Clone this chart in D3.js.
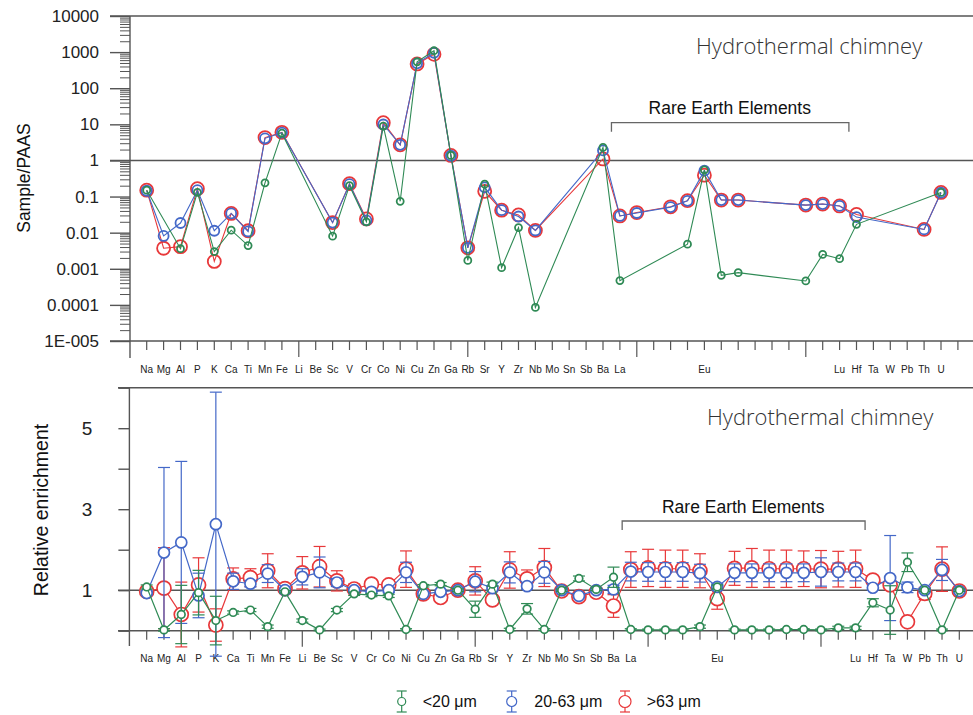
<!DOCTYPE html>
<meta charset="utf-8">
<head>
<style>
  body { margin: 0; background: #fff; }
  svg text { font-family: "Liberation Sans", Arial, sans-serif; }
  .title { font-family: "Open Sans", sans-serif; font-weight: 300; fill: #333; }
</style>
</head>
<body>
<script src="https://cdn.jsdelivr.net/npm/d3@7"></script>
<script>

// element order along x (position 1..48)
var elements = ["Na","Mg","Al","P","K","Ca","Ti","Mn","Fe","Li","Be","Sc","V","Cr","Co","Ni","Cu","Zn","Ga","Rb",
  "Sr","Y","Zr","Nb","Mo","Sn","Sb","Ba","La","Ce","Pr","Nd","Sm","Eu","Gd","Tb","Dy","Ho","Er","Tm",
  "Yb","Lu","Hf","Ta","W","Pb","Th","U"];
var hiddenLabels = ["Ce","Pr","Nd","Sm","Gd","Tb","Dy","Ho","Er","Tm","Yb"];

// top chart: Sample/PAAS (null = not measured)
var paasFine = [0.15,null,0.0036,0.13,0.003,0.0117,0.0044,0.24,5.7,null,null,0.008,0.2,0.02,8.9,0.074,540,1090,1.38,0.0017,
  0.22,0.00107,0.0138,0.000085,null,null,null,2.3,0.00047,null,null,null,0.0048,0.55,0.00066,0.00078,null,null,null,0.00046,
  0.0025,0.0019,0.017,null,null,null,null,0.13];
var paasMid = [0.145,0.0081,0.0185,0.15,0.0113,0.034,0.0108,4.1,5.9,null,null,0.019,0.22,0.022,9.9,2.7,490,960,1.35,0.0038,
  0.18,0.042,0.028,0.0115,null,null,null,1.9,0.029,0.035,null,0.051,0.076,0.52,0.08,0.08,null,null,null,0.058,
  0.062,0.055,0.027,null,null,null,0.0123,0.128];
var paasCoarse = [0.15,0.0037,0.0041,0.165,0.0016,0.034,0.0113,4.3,6.0,null,null,0.019,0.227,0.024,11.1,2.7,470,870,1.38,0.0038,
  0.14,0.042,0.031,0.0115,null,null,null,1.1,0.029,0.036,null,0.052,0.077,0.39,0.08,0.08,null,null,null,0.058,
  0.062,0.055,0.032,null,null,null,0.0123,0.13];

// bottom chart: relative enrichment and error
var relFine = [1.08,0.02,0.40,0.94,0.25,0.45,0.51,0.10,0.96,0.25,0.02,0.51,0.91,0.88,0.86,0.03,1.11,1.15,1.0,0.53,
  1.15,0.03,0.54,0.03,1.0,1.29,1.02,1.32,0.03,0.02,0.02,0.02,0.10,1.08,0.02,0.02,0.02,0.03,0.03,0.02,
  0.07,0.07,0.69,0.51,1.69,1.0,0.02,1.0];
var errFine = [0.05,0.03,0.72,0.55,0.6,0.04,0.04,0.04,0.03,0.04,0.02,0.04,0.04,0.04,0.04,0.02,0.03,0.04,0.03,0.2,
  0.05,0.03,0.13,0.02,0.03,0.06,0.03,0.25,0.02,0.02,0.02,0.02,0.04,0.05,0.02,0.02,0.02,0.02,0.02,0.02,
  0.04,0.04,0.1,0.6,0.23,0.03,0.02,0.03];
var relMid = [0.93,1.93,2.18,0.87,2.63,1.22,1.16,1.41,1.0,1.33,1.44,1.19,1.0,0.96,1.0,1.44,0.91,0.96,1.0,1.21,
  1.05,1.44,1.10,1.44,1.0,0.86,1.0,1.02,1.46,1.45,1.45,1.45,1.42,1.08,1.43,1.43,1.43,1.43,1.43,1.45,
  1.45,1.45,1.06,1.30,1.07,1.0,1.50,0.98];
var errMid = [0.05,2.1,2.0,0.55,3.26,0.2,0.08,0.22,0.05,0.2,0.38,0.1,0.05,0.05,0.05,0.25,0.05,0.05,0.05,0.25,
  0.06,0.26,0.08,0.27,0.05,0.05,0.05,0.1,0.23,0.23,0.23,0.23,0.22,0.08,0.22,0.22,0.22,0.22,0.22,0.35,
  0.22,0.22,0.06,1.05,0.13,0.05,0.26,0.04];
var relCoarse = [0.97,1.05,0.40,1.13,0.14,1.28,1.31,1.48,1.04,1.43,1.58,1.23,1.03,1.15,1.13,1.52,0.91,0.82,1.0,1.23,
  0.76,1.50,1.28,1.56,0.98,0.84,0.95,0.61,1.51,1.55,1.53,1.53,1.48,0.79,1.54,1.55,1.53,1.53,1.53,1.52,
  1.52,1.53,1.25,1.13,0.22,0.92,1.52,0.98];
var errCoarse = [0.05,1.0,0.8,0.67,0.4,0.27,0.22,0.42,0.05,0.4,0.5,0.25,0.12,0.1,0.1,0.45,0.05,0.08,0.05,0.35,
  0.08,0.45,0.22,0.47,0.05,0.06,0.05,0.28,0.44,0.46,0.46,0.46,0.42,0.26,0.42,0.48,0.46,0.46,0.44,0.46,
  0.44,0.46,0.1,0.1,0.05,0.15,0.55,0.04];

var legendLabels = ["<20 μm", "20-63 μm", ">63 μm"];
var colors = {fine: "#2f8a55", mid: "#4468c8", coarse: "#e8383a"};

var W = 973, H = 715;
var svg = d3.select("body").append("svg").attr("width", W).attr("height", H);
var axisCol = "#555";

function hline(y, x0, x1) {
  svg.append("line").attr("x1", x0).attr("x2", x1).attr("y1", y).attr("y2", y)
    .attr("stroke", axisCol).attr("stroke-width", 1.4);
}
function vline(x, y0, y1) {
  svg.append("line").attr("x1", x).attr("x2", x).attr("y1", y0).attr("y2", y1)
    .attr("stroke", axisCol).attr("stroke-width", 1.4);
}

function xAxis(x, y0, labelY) {
  var pos = d3.range(1, 50);
  var g = svg.append("g");
  g.selectAll("line.t").data(pos).enter().append("line")
    .attr("x1", d => x(d)).attr("x2", d => x(d))
    .attr("y1", y0).attr("y2", d => d % 10 == 0 ? y0 + 16 : y0 + 9)
    .attr("stroke", axisCol).attr("stroke-width", 1.2);
  g.selectAll("text").data(elements.map((e, i) => [e, i + 1]).filter(d => hiddenLabels.indexOf(d[0]) < 0))
    .enter().append("text")
    .attr("x", d => x(d[1])).attr("y", labelY)
    .attr("text-anchor", "middle").attr("font-size", 10).attr("fill", "#222")
    .text(d => d[0]);
}

function bracket(x, y, textY) {
  svg.append("path")
    .attr("d", "M" + x(28.5) + "," + (y + 9) + "V" + y + "H" + x(42.55) + "V" + (y + 9))
    .attr("fill", "none").attr("stroke", "#666").attr("stroke-width", 1.3);
  svg.append("text").attr("x", x(35.5)).attr("y", textY).attr("text-anchor", "middle")
    .attr("font-size", 17.5).attr("fill", "#111").text("Rare Earth Elements");
}

// ---------- top chart ----------
var xTop = d3.scaleLinear().domain([0, 50]).range([129.8, 974.8]);
var yTop = d3.scaleLog().domain([1e-5, 1e4]).range([341, 16]);

var majors = [1e-5, 1e-4, 1e-3, 1e-2, 1e-1, 1, 10, 100, 1000, 10000];
var minors = [];
majors.slice(0, -1).forEach(function(m) { for (var k = 2; k < 10; k++) minors.push(m * k); });

svg.append("g").attr("transform", "translate(130,0)")
  .call(d3.axisLeft(yTop).tickValues(minors).tickSize(10).tickSizeOuter(0).tickFormat(""))
  .call(g => g.select(".domain").remove())
  .call(g => g.selectAll("line").attr("stroke", axisCol));
svg.append("g").attr("transform", "translate(130,0)")
  .call(d3.axisLeft(yTop).tickValues(majors).tickSize(20).tickPadding(11).tickSizeOuter(0)
    .tickFormat(d => d == 1e-5 ? "1E-005" : d >= 1 ? d3.format("d")(d) : d3.format("." + Math.round(-Math.log10(d)) + "f")(d)))
  .call(g => g.select(".domain").remove())
  .call(g => g.selectAll("line").attr("stroke", axisCol).attr("stroke-width", 1.4))
  .call(g => g.selectAll("text").attr("font-size", 17).attr("fill", "#222")
    .style("font-family", '"Liberation Sans", Arial, sans-serif'));

hline(16, 110, W);
hline(341, 110, W);
hline(yTop(1), 110, W);
vline(130, 16, 358);
xAxis(xTop, 341, 373);

svg.append("text").attr("transform", "translate(30," + 178 + ") rotate(-90)")
  .attr("text-anchor", "middle").attr("font-size", 17.5).attr("fill", "#111").text("Sample/PAAS");
svg.append("text").attr("class", "title").attr("x", 696).attr("y", 54)
  .attr("font-size", 22).text("Hydrothermal chimney");
bracket(xTop, 122.7, 114);

var topSeries = [
  {vals: paasCoarse, col: colors.coarse, r: 6.5},
  {vals: paasMid, col: colors.mid, r: 5},
  {vals: paasFine, col: colors.fine, r: 3.5}
];
var lineTop = d3.line().x(d => xTop(d[0])).y(d => yTop(d[1]));
topSeries.forEach(function(s) {
  var pts = s.vals.map((v, i) => [i + 1, v]).filter(d => d[1] != null);
  svg.append("path").datum(pts).attr("d", lineTop)
    .attr("fill", "none").attr("stroke", s.col).attr("stroke-width", 1.1);
  svg.append("g").selectAll("circle").data(pts).enter().append("circle")
    .attr("cx", d => xTop(d[0])).attr("cy", d => yTop(d[1])).attr("r", s.r)
    .attr("fill", "none").attr("stroke", s.col).attr("stroke-width", 1.8);
});

// ---------- bottom chart ----------
var xBot = d3.scaleLinear().domain([0, 49]).range([129.4, 976.6]);
var yBot = d3.scaleLinear().domain([0, 6]).range([630.7, 387.7]);

svg.append("g").attr("transform", "translate(129.4,0)")
  .call(d3.axisLeft(yBot).tickValues([0, 1, 2, 3, 4, 5, 6]).tickSize(11).tickPadding(26).tickSizeOuter(0)
    .tickFormat(d => d % 2 == 1 ? d : ""))
  .call(g => g.select(".domain").remove())
  .call(g => g.selectAll("line").attr("stroke", axisCol).attr("stroke-width", 1.4))
  .call(g => g.selectAll("text").attr("font-size", 19).attr("fill", "#222")
    .style("font-family", '"Liberation Sans", Arial, sans-serif'));

hline(yBot(6), 118, W);
hline(yBot(0), 118, W);
hline(yBot(1), 118, W);
vline(129.4, yBot(6), 646);
xAxis(xBot, yBot(0), 662);

svg.append("text").attr("transform", "translate(48," + 510 + ") rotate(-90)")
  .attr("text-anchor", "middle").attr("font-size", 19.5).attr("fill", "#111").text("Relative enrichment");
svg.append("text").attr("class", "title").attr("x", 707).attr("y", 425)
  .attr("font-size", 22).text("Hydrothermal chimney");
bracket(xBot, 521, 512.7);

var botSeries = [
  {vals: relCoarse, err: errCoarse, col: colors.coarse, r: 7},
  {vals: relMid, err: errMid, col: colors.mid, r: 5.5},
  {vals: relFine, err: errFine, col: colors.fine, r: 3.8}
];
var lineBot = d3.line().x(d => xBot(d[0])).y(d => yBot(d[1]));
botSeries.forEach(function(s) {
  var pts = s.vals.map((v, i) => [i + 1, v, s.err[i]]);
  var g = svg.append("g").attr("stroke", s.col).attr("stroke-width", 1.2);
  var eb = g.selectAll("g.eb").data(pts).enter().append("g");
  eb.append("line").attr("x1", d => xBot(d[0])).attr("x2", d => xBot(d[0]))
    .attr("y1", d => yBot(d[1] - d[2])).attr("y2", d => yBot(d[1] + d[2]));
  eb.append("line").attr("x1", d => xBot(d[0]) - 6).attr("x2", d => xBot(d[0]) + 6)
    .attr("y1", d => yBot(d[1] + d[2])).attr("y2", d => yBot(d[1] + d[2]));
  eb.append("line").attr("x1", d => xBot(d[0]) - 6).attr("x2", d => xBot(d[0]) + 6)
    .attr("y1", d => yBot(d[1] - d[2])).attr("y2", d => yBot(d[1] - d[2]));
  g.append("path").datum(pts).attr("d", lineBot).attr("fill", "none");
  g.selectAll("circle").data(pts).enter().append("circle")
    .attr("cx", d => xBot(d[0])).attr("cy", d => yBot(d[1])).attr("r", s.r)
    .attr("fill", "#fff").attr("stroke-width", 1.7);
});

// ---------- legend ----------
var legend = [
  {x: 401.7, tx: 422.7, col: colors.fine, r: 4, label: legendLabels[0]},
  {x: 511.7, tx: 534.3, col: colors.mid, r: 5, label: legendLabels[1]},
  {x: 625, tx: 646.7, col: colors.coarse, r: 6, label: legendLabels[2]}
];
legend.forEach(function(l) {
  var g = svg.append("g").attr("stroke", l.col).attr("stroke-width", 1.2);
  g.append("line").attr("x1", l.x).attr("x2", l.x).attr("y1", 691).attr("y2", 712);
  g.append("line").attr("x1", l.x - 5).attr("x2", l.x + 5).attr("y1", 691).attr("y2", 691);
  g.append("line").attr("x1", l.x - 5).attr("x2", l.x + 5).attr("y1", 712).attr("y2", 712);
  g.append("circle").attr("cx", l.x).attr("cy", 701.5).attr("r", l.r).attr("fill", "#fff");
  svg.append("text").attr("x", l.tx).attr("y", 707).attr("font-size", 16).attr("fill", "#111").text(l.label);
});

</script>
</body>
